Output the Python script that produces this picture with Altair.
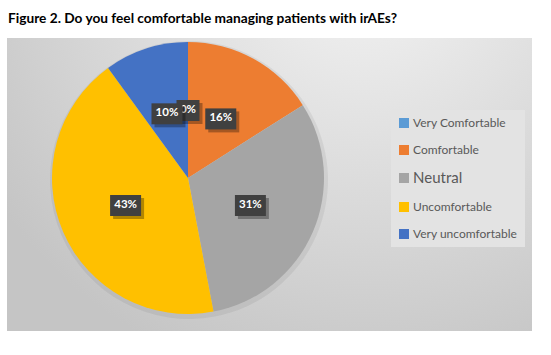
import altair as alt
import pandas as pd

categories = ["Very Comfortable", "Comfortable", "Neutral", "Uncomfortable", "Very uncomfortable"]
values = [0, 16, 31, 43, 10]
colors = ["#5B9BD5", "#ED7D31", "#A5A5A5", "#FFC000", "#4472C4"]
labels = ["0%", "16%", "31%", "43%", "10%"]

df = pd.DataFrame({"cat": categories, "value": values, "idx": list(range(len(categories))), "label": labels})

W, H = 525, 293
CX, CY, R, LR = 181, 140, 136, 68

base = alt.Chart(df)

bg = alt.RadialGradient(
    gradient="radial",
    x1=0.68, y1=0.05, r1=0.0,
    x2=0.68, y2=0.05, r2=0.85,
    stops=[
        alt.GradientStop(offset=0, color="#f5f5f5"),
        alt.GradientStop(offset=1, color="#c5c5c5"),
    ],
)

panel = alt.Chart(pd.DataFrame({"k": [0]})).mark_rect(fill=bg, strokeWidth=0).encode(
    x=alt.value(0), x2=alt.value(W), y=alt.value(0), y2=alt.value(H)
)

pie = base.mark_arc(radius=R, strokeWidth=0).encode(
    theta=alt.Theta("value:Q", stack=True),
    color=alt.Color(
        "cat:N",
        scale=alt.Scale(domain=categories, range=colors),
        sort=categories,
        legend=alt.Legend(
            title=None,
            orient="none",
            legendX=384,
            legendY=72,
            direction="vertical",
            fillColor="#e3e3e3",
            padding=7,
            symbolType="square",
            symbolSize=100,
            symbolStrokeWidth=0,
            labelFont="Lato",
            labelFontSize=alt.expr("datum.label == 'Neutral' ? 15 : 12"),
            labelColor="#595959",
            labelOffset=3,
            rowPadding=15,
            labelLimit=200,
        ),
    ),
    order=alt.Order("idx:Q"),
    x=alt.value(CX),
    y=alt.value(CY),
)

shadow = base.mark_arc(radius=R + 3, strokeWidth=0, color="black", opacity=0.06).encode(
    theta=alt.Theta("value:Q", stack=True),
    order=alt.Order("idx:Q"),
    x=alt.value(CX + 1),
    y=alt.value(CY + 2),
)

pos = base.transform_joinaggregate(total="sum(value)").transform_window(
    cum="sum(value)", sort=[alt.SortField("idx")], frame=[None, 0]
).transform_calculate(
    mid="(datum.cum - datum.value/2)/datum.total*2*PI",
).transform_calculate(
    lx=f"{CX} + {LR}*sin(datum.mid)",
    ly=f"{CY} - {LR}*cos(datum.mid)",
    w="8*length(datum.label) + 7",
).transform_calculate(
    x1="datum.lx - datum.w/2",
    x2="datum.lx + datum.w/2",
    y1="datum.ly - 10",
    y2="datum.ly + 11",
    sx1="datum.lx - datum.w/2 + 3",
    sx2="datum.lx + datum.w/2 + 3",
    sy1="datum.ly - 7",
    sy2="datum.ly + 14",
)


def label_group(filt):
    p = pos.transform_filter(filt)
    sh = p.mark_rect(color="black", opacity=0.3).encode(
        x=alt.X("sx1:Q", scale=None), x2="sx2:Q",
        y=alt.Y("sy1:Q", scale=None), y2="sy2:Q",
    )
    box = p.mark_rect(color="#404040").encode(
        x=alt.X("x1:Q", scale=None), x2="x2:Q",
        y=alt.Y("y1:Q", scale=None), y2="y2:Q",
    )
    txt = p.mark_text(font="Lato", fontSize=11.5, fontWeight="bold", color="white", baseline="middle").encode(
        x=alt.X("lx:Q", scale=None), y=alt.Y("ly:Q", scale=None), text="label:N"
    )
    return [sh, box, txt]


layers = [panel, shadow, pie] + label_group("datum.cat != 'Very uncomfortable'") + label_group("datum.cat == 'Very uncomfortable'")

chart = alt.layer(*layers).properties(
    width=W,
    height=H,
    padding={"left": 7, "top": 38, "right": 19, "bottom": 24},
    autosize=alt.AutoSizeParams(type="none"),
    background="white",
    title=alt.TitleParams(
        "Figure 2.  Do you feel comfortable managing patients with irAEs?",
        anchor="start",
        frame="group",
        orient="top",
        offset=17,
        dx=1,
        dy=16,
        baseline="alphabetic",
        font="Lato",
        fontSize=13.7,
        fontWeight="bold",
        color="black",
    ),
).configure_view(stroke=None)

chart.save("out.html", embed_options={"renderer": "svg", "actions": False})
